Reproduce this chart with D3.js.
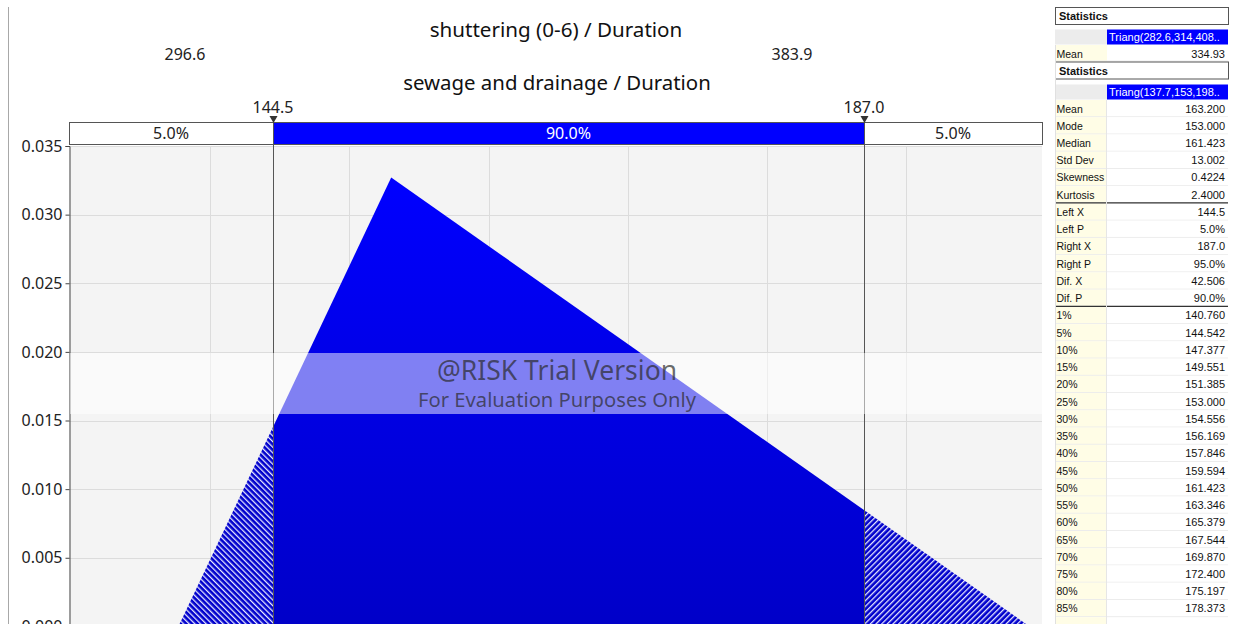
<!DOCTYPE html>
<html><head><meta charset="utf-8">
<script src="https://cdn.jsdelivr.net/npm/d3@7"></script>
<style>body{margin:0;background:#fff;overflow:hidden}svg{display:block}</style>
</head><body>
<script>
// ---- data ----
const title1 = "shuttering (0-6) / Duration";
const title1Left = "296.6", title1Right = "383.9";
const title2 = "sewage and drainage / Duration";
const triangParams = [137.7, 153, 198.9];   // min, mode, max
const peakDensity = 0.0327;
const triangPoints = [[137.7, 0], [153, 0.0327], [198.9, 0]];
const leftX = 144.5, rightX = 187.0;
const leftLabel = "144.5", rightLabel = "187.0";
const bandPcts = ["5.0%", "90.0%", "5.0%"];
const xDomain = [129.83, 199.8];
const xGrid = [140, 150, 160, 170, 180, 190];
const yTicks = [0, 0.005, 0.010, 0.015, 0.020, 0.025, 0.030, 0.035];
const dist1Name = "Triang(282.6,314,408..";
const dist1Mean = "334.93";
const dist2Name = "Triang(137.7,153,198..";
const statLabels = ["Mean","Mode","Median","Std Dev","Skewness","Kurtosis","Left X","Left P","Right X","Right P","Dif. X","Dif. P"];
const statValues = ["163.200","153.000","161.423","13.002","0.4224","2.4000","144.5","5.0%","187.0","95.0%","42.506","90.0%"];
const pctLabels = ["1%","5%","10%","15%","20%","25%","30%","35%","40%","45%","50%","55%","60%","65%","70%","75%","80%","85%"];
const pctValues = ["140.760","144.542","147.377","149.551","151.385","153.000","154.556","156.169","157.846","159.594","161.423","163.346","165.379","167.544","169.870","172.400","175.197","178.373"];

// ---- layout ----
const W = 1237, H = 624;
const svg = d3.select("body").append("svg").attr("width", W).attr("height", H);
const font = "'Noto Sans', 'Open Sans', sans-serif";
const px0 = 69, px1 = 1042, pyTop = 146, pyZero = 626.4;
const x = d3.scaleLinear().domain(xDomain).range([px0, px1]);
const y = d3.scaleLinear().domain([0, 0.035]).range([pyZero, pyTop]);

// window border line
svg.append("line").attr("x1", 8.5).attr("x2", 8.5).attr("y1", 7).attr("y2", H).attr("stroke", "#a8a8a8");

const defs = svg.append("defs");
const grad = defs.append("linearGradient").attr("id", "g").attr("gradientUnits", "userSpaceOnUse")
  .attr("x1", 0).attr("x2", 0).attr("y1", y(peakDensity)).attr("y2", pyZero);
grad.append("stop").attr("offset", 0).attr("stop-color", "#0000ff");
grad.append("stop").attr("offset", 1).attr("stop-color", "#0000c8");
function hatch(id, angle) {
  const p = defs.append("pattern").attr("id", id).attr("patternUnits", "userSpaceOnUse")
    .attr("width", 4).attr("height", 4).attr("patternTransform", `rotate(${angle})`);
  p.append("rect").attr("width", 4).attr("height", 4).attr("fill", "#0000cc");
  p.append("rect").attr("x", 0).attr("width", 1.3).attr("height", 4).attr("fill", "#e8e8ff");
}
hatch("hl", -45);
hatch("hr", 45);
defs.append("clipPath").attr("id", "cl").append("rect")
  .attr("x", px0).attr("y", 0).attr("width", x(leftX) - px0).attr("height", H);
defs.append("clipPath").attr("id", "cm").append("rect")
  .attr("x", x(leftX)).attr("y", 0).attr("width", x(rightX) - x(leftX)).attr("height", H);
defs.append("clipPath").attr("id", "cr").append("rect")
  .attr("x", x(rightX)).attr("y", 0).attr("width", px1 - x(rightX)).attr("height", H);

// plot background
svg.append("rect").attr("x", px0).attr("y", pyTop).attr("width", px1 - px0).attr("height", H - pyTop).attr("fill", "#f4f4f4");
// grid
svg.append("g").selectAll("line").data(yTicks).join("line")
  .attr("x1", px0).attr("x2", px1).attr("y1", d => Math.round(y(d)) + 0.5).attr("y2", d => Math.round(y(d)) + 0.5)
  .attr("stroke", "#dcdcdc");
svg.append("g").selectAll("line").data(xGrid).join("line")
  .attr("x1", d => Math.round(x(d)) + 0.5).attr("x2", d => Math.round(x(d)) + 0.5).attr("y1", pyTop).attr("y2", H)
  .attr("stroke", "#dcdcdc");

// triangle
const area = d3.line().x(d => x(d[0])).y(d => y(d[1]));
const pathD = area(triangPoints) + "Z";
svg.append("path").attr("d", pathD).attr("fill", "url(#g)").attr("clip-path", "url(#cm)");
svg.append("path").attr("d", pathD).attr("fill", "url(#hl)").attr("clip-path", "url(#cl)");
svg.append("path").attr("d", pathD).attr("fill", "url(#hr)").attr("clip-path", "url(#cr)");

// y axis
const yAxis = d3.axisLeft(y).tickValues(yTicks).tickFormat(d3.format(".3f")).tickSize(4);
const ga = svg.append("g").attr("transform", `translate(${px0 + 0.5},0)`).call(yAxis);
ga.select(".domain").attr("stroke", "#444");
ga.selectAll(".tick line").attr("stroke", "#444");
ga.selectAll("text").attr("font-family", font).attr("font-size", 16).attr("fill", "#222").attr("x", -7);

// marker lines
svg.selectAll(".vl").data([leftX, rightX]).join("line")
  .attr("x1", d => Math.round(x(d)) + 0.5).attr("x2", d => Math.round(x(d)) + 0.5)
  .attr("y1", 122).attr("y2", H).attr("stroke", "#555");

// watermark band
svg.append("rect").attr("x", px0 + 1).attr("y", 353).attr("width", px1 - px0 - 1).attr("height", 61)
  .attr("fill", "#fff").attr("opacity", 0.5);
svg.append("text").attr("x", 557).attr("y", 380).attr("text-anchor", "middle")
  .attr("font-family", font).attr("font-size", 26.5).attr("fill", "#2a2a2a").attr("fill-opacity", 0.7)
  .text("@RISK Trial Version");
svg.append("text").attr("x", 557).attr("y", 407).attr("text-anchor", "middle")
  .attr("font-family", font).attr("font-size", 20.2).attr("fill", "#2a2a2a").attr("fill-opacity", 0.7)
  .text("For Evaluation Purposes Only");

// percent band
const bandEdges = [xDomain[0], leftX, rightX, xDomain[1]];
const segs = bandPcts.map((t, i) => ({ t, a: bandEdges[i], b: bandEdges[i + 1], mid: i === 1 }));
svg.selectAll(".seg").data(segs).join("rect")
  .attr("x", d => Math.round(x(d.a)) + 0.5).attr("y", 122.5).attr("width", d => Math.round(x(d.b)) - Math.round(x(d.a))).attr("height", 22)
  .attr("fill", d => d.mid ? "#0000ff" : "#fff").attr("stroke", "#555");
svg.selectAll(".segt").data(segs).join("text")
  .attr("x", d => (x(d.a) + x(d.b)) / 2).attr("y", 139).attr("text-anchor", "middle")
  .attr("font-family", font).attr("font-size", 16).attr("fill", d => d.mid ? "#fff" : "#222").text(d => d.t);
// markers
const marks = [{ v: leftX, t: leftLabel }, { v: rightX, t: rightLabel }];
svg.selectAll(".mk").data(marks).join("path")
  .attr("d", d => { const c = Math.round(x(d.v)) + 0.5; return `M${c - 4},116L${c + 4},116L${c},123Z`; })
  .attr("fill", "#333");
svg.selectAll(".mkt").data(marks).join("text")
  .attr("x", d => x(d.v)).attr("y", 113).attr("text-anchor", "middle")
  .attr("font-family", font).attr("font-size", 16).attr("fill", "#222").text(d => d.t);

// titles
svg.append("text").attr("x", 556).attr("y", 37).attr("text-anchor", "middle")
  .attr("font-family", font).attr("font-size", 20.6).attr("fill", "#111").text(title1);
svg.append("text").attr("x", 185).attr("y", 60).attr("text-anchor", "middle")
  .attr("font-family", font).attr("font-size", 16).attr("fill", "#222").text(title1Left);
svg.append("text").attr("x", 792).attr("y", 60).attr("text-anchor", "middle")
  .attr("font-family", font).attr("font-size", 16).attr("fill", "#222").text(title1Right);
svg.append("text").attr("x", 557).attr("y", 90).attr("text-anchor", "middle")
  .attr("font-family", font).attr("font-size", 20.4).attr("fill", "#111").text(title2);

// ---- statistics panel ----
const sf = "'Liberation Sans', Arial, sans-serif";
const sx0 = 1055, sxm = 1107, sx1 = 1228;
const P = svg.append("g");
function header(yTop) {
  P.append("rect").attr("x", sx0 + 0.5).attr("y", yTop + 0.5).attr("width", sx1 - sx0).attr("height", 17)
    .attr("fill", "#fff").attr("stroke", "#555");
  P.append("text").attr("x", sx0 + 4).attr("y", yTop + 13).attr("font-family", sf).attr("font-size", 11)
    .attr("font-weight", "bold").attr("fill", "#111").text("Statistics");
}
function distRow(yTop, name) {
  P.append("rect").attr("x", sx0).attr("y", yTop).attr("width", sxm - sx0).attr("height", 15).attr("fill", "#ececec");
  P.append("rect").attr("x", sxm).attr("y", yTop).attr("width", sx1 - sxm).attr("height", 15).attr("fill", "#0000ff");
  P.append("text").attr("x", sxm + 2).attr("y", yTop + 11.5).attr("font-family", sf).attr("font-size", 11)
    .attr("fill", "#fff").text(name);
}
function dataRows(startTop, rows, step) {
  const g = P.append("g");
  rows.forEach((r, i) => {
    const t = startTop + i * step;
    g.append("rect").attr("x", sx0).attr("y", t).attr("width", sxm - sx0).attr("height", step).attr("fill", "#fffde6");
    g.append("rect").attr("x", sxm).attr("y", t).attr("width", sx1 - sxm).attr("height", step).attr("fill", "#fff");
    g.append("line").attr("x1", sx0).attr("x2", sx1).attr("y1", t + step - 0.5).attr("y2", t + step - 0.5).attr("stroke", "#ececec");
    g.append("text").attr("x", sx0 + 1.5).attr("y", t + 12.5).attr("font-family", sf).attr("font-size", 10.5).attr("fill", "#111").text(r[0]);
    g.append("text").attr("x", sx1 - 3).attr("y", t + 12.5).attr("text-anchor", "end").attr("font-family", sf).attr("font-size", 11).attr("fill", "#111").text(r[1]);
  });
}
header(7);
distRow(29.5, dist1Name);
dataRows(45, [["Mean", dist1Mean]], 16.5);
header(61.5);
distRow(84.5, dist2Name);
const step = 17.24;
const allRows = statLabels.map((l, i) => [l, statValues[i]]).concat(pctLabels.map((l, i) => [l, pctValues[i]]));
dataRows(100, allRows, step);
// trailing partial row (cut off by the window)
const tEnd = 100 + allRows.length * step;
P.append("rect").attr("x", sx0).attr("y", tEnd).attr("width", sxm - sx0).attr("height", H - tEnd).attr("fill", "#fffde6");
// separators
[6, 12].forEach(k => {
  const yy = 100 + k * step - 0.5;
  P.append("line").attr("x1", sx0).attr("x2", sx1).attr("y1", yy).attr("y2", yy).attr("stroke", "#333").attr("stroke-width", 1.3);
});
P.append("line").attr("x1", sxm - 0.5).attr("x2", sxm - 0.5).attr("y1", 100).attr("y2", H).attr("stroke", "#e6e6e6");
P.append("line").attr("x1", sx0 + 0.5).attr("x2", sx0 + 0.5).attr("y1", 45).attr("y2", H).attr("stroke", "#e0e0e0");
</script>
</body></html>
